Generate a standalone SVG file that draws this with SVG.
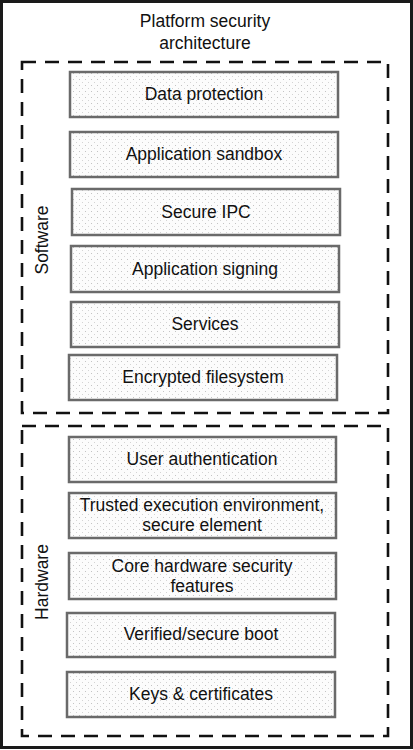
<svg xmlns="http://www.w3.org/2000/svg" width="413" height="750" viewBox="0 0 413 750">
<style>
  .frame{fill:#fff;stroke:#1a1a1a;stroke-width:3}
  .group{fill:none;stroke:#111;stroke-width:2.6;stroke-dasharray:14 9}
  .box{fill:url(#dots);stroke:#6a6a6a;stroke-width:2.5}
  text{font-family:"Liberation Sans",Arial,sans-serif;font-size:17.5px;fill:#111;text-anchor:middle}
</style>
<defs>
  <pattern id="dots" width="6" height="6" patternUnits="userSpaceOnUse">
    <rect width="6" height="6" fill="#fcfcfc"/>
    <rect x="1" y="1" width="1" height="1" fill="#c4c4c4"/>
    <rect x="4" y="4" width="1" height="1" fill="#d4d4d4"/>
  </pattern>
</defs>
<rect class="frame" x="1.5" y="1.5" width="410" height="746"/>
<g id="title">
  <text x="205" y="27">Platform security</text>
  <text x="205" y="49">architecture</text>
</g>
<g id="software">
  <rect class="group" x="22" y="62" width="366" height="351"/>
  <text transform="translate(48 240) rotate(-90)">Software</text>
</g>
<g id="hardware">
  <rect class="group" x="22" y="426" width="366" height="310"/>
  <text transform="translate(48 582) rotate(-90)">Hardware</text>
</g>
<g id="data-protection"><rect class="box" x="70" y="72" width="268" height="45"/><text x="204" y="100">Data protection</text></g>
<g id="application-sandbox"><rect class="box" x="70" y="132" width="268" height="45"/><text x="204" y="160">Application sandbox</text></g>
<g id="secure-ipc"><rect class="box" x="72" y="189" width="268" height="46"/><text x="206" y="218">Secure IPC</text></g>
<g id="application-signing"><rect class="box" x="71" y="246" width="268" height="46"/><text x="205" y="275">Application signing</text></g>
<g id="services"><rect class="box" x="71" y="302" width="268" height="45"/><text x="205" y="330">Services</text></g>
<g id="encrypted-filesystem"><rect class="box" x="69" y="355" width="268" height="45"/><text x="203" y="383">Encrypted filesystem</text></g>
<g id="user-authentication"><rect class="box" x="69" y="437" width="267" height="45"/><text x="202" y="465">User authentication</text></g>
<g id="tee"><rect class="box" x="69" y="493" width="267" height="45"/><text x="202" y="511">Trusted execution environment,</text><text x="202" y="531">secure element</text></g>
<g id="core-hardware"><rect class="box" x="69" y="553" width="267" height="46"/><text x="202" y="572">Core hardware security</text><text x="202" y="592">features</text></g>
<g id="verified-boot"><rect class="box" x="67" y="613" width="268" height="44"/><text x="201" y="640">Verified/secure boot</text></g>
<g id="keys-certificates"><rect class="box" x="67" y="672" width="268" height="45"/><text x="201" y="700">Keys &amp; certificates</text></g>
</svg>
